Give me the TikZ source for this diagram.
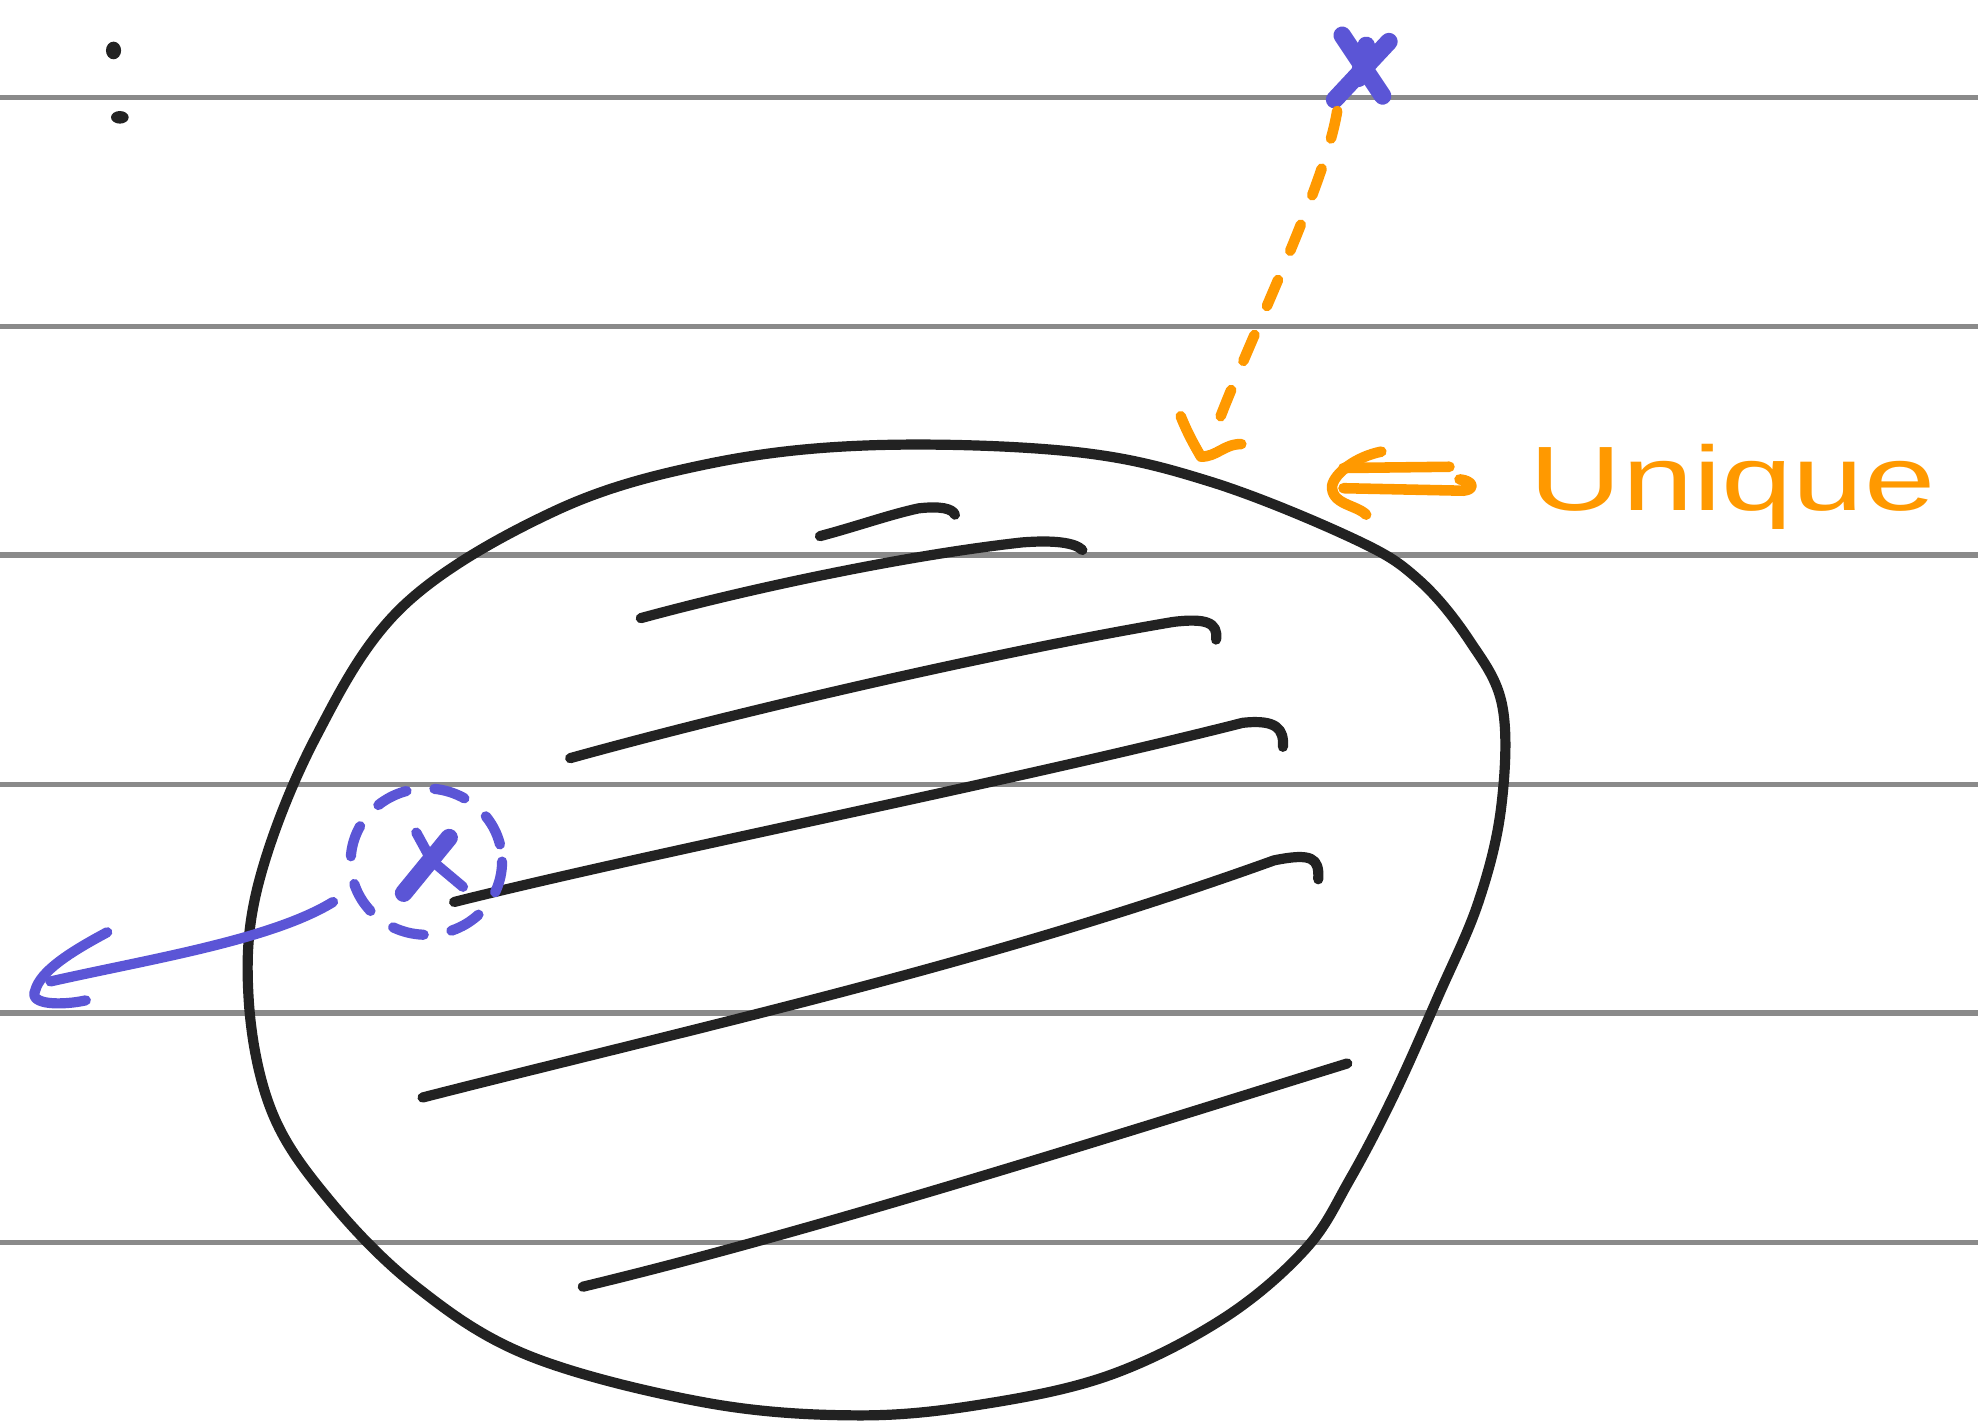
\documentclass[tikz,border=0pt]{standalone}
\usepackage{fontspec}
\newfontfamily\handfont{Liberation Sans}
\definecolor{inkblue}{HTML}{5B55D6}
\definecolor{inkorange}{HTML}{FF9900}
\definecolor{ruleg}{HTML}{8A8A8A}
\definecolor{ink}{HTML}{222222}
\begin{document}
\begin{tikzpicture}[x=0.0126cm,y=-0.0126cm, line cap=round, line join=round,
  ruled/.style={ruleg, line width=1.5pt},
  blk/.style={ink, line width=2.9pt},
  bl/.style={inkblue, line width=2.9pt},
  blthick/.style={inkblue, line width=5pt},
  org/.style={inkorange, line width=3pt},
  orgdash/.style={org, dash pattern=on 8pt off 9pt}]
\useasboundingbox[fill=white] (0,0) rectangle (1568,1131);
% ruled lines
\foreach \yy in {77,259,440,622,803,985}
  \draw[ruled] (0,\yy) -- (1568,\yy);
% two dots
\fill[ink] (90,40) ellipse [x radius=6, y radius=7];
\fill[ink] (95,93) ellipse [x radius=7, y radius=5];
% blob
\draw[blk] plot[smooth cycle, tension=0.6] coordinates {
 (1075,428) (1125,460) (1165,508) (1191,560) (1190,640) (1172,715)
 (1140,790) (1105,868) (1070,935) (1035,990) (970,1045) (880,1090)
 (780,1113) (680,1122)
 (560,1112) (420,1075) (330,1020) (260,950) (215,880) (197,790)
 (205,700) (250,585) (320,480) (440,405) (560,368) (690,353)
 (850,358) (960,382)};
% hatching
\draw[blk] (650,425) .. controls (680,417) and (705,408) .. (728,403) .. controls (745,401) and (755,403) .. (757,408);
\draw[blk] (508,490) .. controls (600,465) and (720,440) .. (810,430) .. controls (835,428) and (852,430) .. (858,436);
\draw[blk] (452,601) .. controls (600,560) and (800,515) .. (930,493) .. controls (955,490) and (966,493) .. (964,507);
\draw[blk] (360,715) .. controls (520,675) and (800,620) .. (985,573) .. controls (1012,570) and (1018,578) .. (1017,592);
\draw[blk] (335,870) .. controls (550,815) and (780,765) .. (1010,682) .. controls (1040,676) and (1046,680) .. (1045,697);
\draw[blk] (462,1020) .. controls (650,975) and (900,895) .. (1068,843);
% top blue x
\coordinate (tx) at (1078,52);
\draw[blthick] (1064,28) -- (1096,76);
\draw[blthick] (1101,33) -- (1058,79);
\draw[blthick] (1083,36) -- (1077,62);
% orange dashed arrow
\coordinate (otip) at (952,362);
\draw[orgdash] (1060,88) .. controls (1050,150) and (985,280) .. (962,345);
\draw[org] (936,330) .. controls (942,345) and (948,355) .. (otip) .. controls (965,362) and (970,352) .. (984,352);
% orange double arrow
\draw[org] (1065,371) -- (1149,370);
\draw[org] (1065,387) -- (1160,389) .. controls (1170,388) and (1168,381) .. (1157,380);
\draw[org] (1095,358) .. controls (1075,362) and (1058,375) .. (1056,385) .. controls (1055,400) and (1075,400) .. (1083,408);
\node[inkorange, anchor=base west, inner sep=0pt, font=\handfont\fontsize{26}{26}\selectfont] (uq) at (1212,405) {\scalebox{1.4}[1]{Unique}};
% blue dashed circle with x
\coordinate (cx) at (338,683);
\draw[bl, dash pattern=on 9pt off 8pt] (cx) ellipse [x radius=60, y radius=58];
\draw[bl] (330,660) -- (342,682) -- (367,703);
\draw[blthick] (356,664) -- (320,708);
% blue arrow
\coordinate (btip) at (28,785);
\draw[bl] (264,715) .. controls (215,745) and (120,760) .. (40,778);
\draw[bl] (85,739) .. controls (55,755) and (32,770) .. (btip) .. controls (22,797) and (50,797) .. (68,793);
\end{tikzpicture}
\end{document}
